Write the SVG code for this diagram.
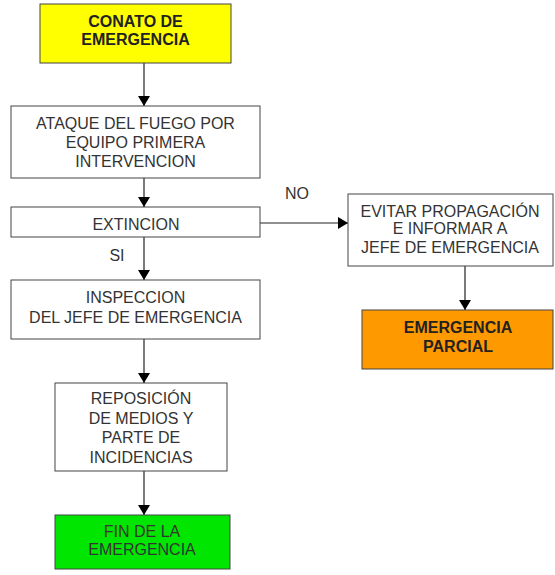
<svg xmlns="http://www.w3.org/2000/svg" width="555" height="575" viewBox="0 0 555 575">
<style>
.box{stroke:#444;stroke-width:1}
.t{font-family:"Liberation Sans",Arial,sans-serif;font-size:16px;fill:#333;text-anchor:middle}
.b{font-weight:bold;fill:#222}
.c{stroke:#222;stroke-width:1.2;fill:none}
</style>
<defs>
<marker id="ah" markerWidth="10" markerHeight="12" refX="10" refY="6" orient="auto" markerUnits="userSpaceOnUse">
<path d="M0,0 L10,6 L0,12 Z" fill="#000"/>
</marker>
</defs>
<rect width="555" height="575" fill="#fff"/>
<g id="connectors">
<line class="c" x1="144" y1="63" x2="144" y2="106" marker-end="url(#ah)"/>
<line class="c" x1="144" y1="178" x2="144" y2="207" marker-end="url(#ah)"/>
<line class="c" x1="144" y1="237" x2="144" y2="280" marker-end="url(#ah)"/>
<line class="c" x1="144" y1="339" x2="144" y2="383" marker-end="url(#ah)"/>
<line class="c" x1="144" y1="471" x2="144" y2="515" marker-end="url(#ah)"/>
<line class="c" x1="260" y1="223" x2="348" y2="223" marker-end="url(#ah)"/>
<line class="c" x1="465" y1="266" x2="465" y2="310" marker-end="url(#ah)"/>
<text class="t" x="297" y="199">NO</text>
<text class="t" x="117" y="261">SI</text>
</g>
<g id="conato">
<rect class="box" x="40" y="4" width="191" height="59" fill="#ffff00"/>
<text class="t b" x="135.5" y="27">CONATO DE</text>
<text class="t b" x="135.5" y="45">EMERGENCIA</text>
</g>
<g id="ataque">
<rect class="box" x="11" y="106" width="249" height="72" fill="#fff"/>
<text class="t" x="135.5" y="129">ATAQUE DEL FUEGO POR</text>
<text class="t" x="135.5" y="148">EQUIPO PRIMERA</text>
<text class="t" x="135.5" y="167">INTERVENCION</text>
</g>
<g id="extincion">
<rect class="box" x="11" y="207" width="249" height="30" fill="#fff"/>
<text class="t" x="136" y="230">EXTINCION</text>
</g>
<g id="inspeccion">
<rect class="box" x="11" y="280" width="249" height="59" fill="#fff"/>
<text class="t" x="135.5" y="303">INSPECCION</text>
<text class="t" x="135.5" y="323">DEL JEFE DE EMERGENCIA</text>
</g>
<g id="reposicion">
<rect class="box" x="55" y="383" width="172" height="88" fill="#fff"/>
<text class="t" x="141" y="404">REPOSICIÓN</text>
<text class="t" x="141" y="424">DE MEDIOS Y</text>
<text class="t" x="141" y="443">PARTE DE</text>
<text class="t" x="141" y="463">INCIDENCIAS</text>
</g>
<g id="fin">
<rect class="box" x="55" y="515" width="175" height="54" fill="#00e600"/>
<text class="t" x="142" y="537">FIN DE LA</text>
<text class="t" x="142" y="555">EMERGENCIA</text>
</g>
<g id="evitar">
<rect class="box" x="348" y="194" width="205" height="72" fill="#fff"/>
<text class="t" x="450" y="217">EVITAR PROPAGACIÓN</text>
<text class="t" x="450" y="234">E INFORMAR A</text>
<text class="t" x="450" y="253">JEFE DE EMERGENCIA</text>
</g>
<g id="parcial">
<rect class="box" x="362" y="310" width="191" height="59" fill="#ff9900"/>
<text class="t b" x="458" y="333">EMERGENCIA</text>
<text class="t b" x="458" y="352">PARCIAL</text>
</g>
</svg>
